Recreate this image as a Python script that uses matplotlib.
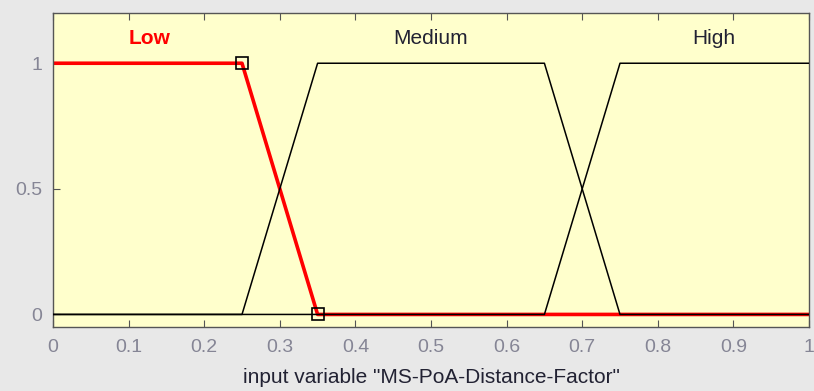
import matplotlib
matplotlib.use("Agg")
import matplotlib.pyplot as plt

plt.rcParams['font.family'] = ['Liberation Sans', 'DejaVu Sans']

# Membership functions (trapezoids) of the input variable
mf_names = ["Low", "Medium", "High"]
low_x = [0.0, 0.0, 0.25, 0.35, 1.0]
low_y = [1.0, 1.0, 1.0, 0.0, 0.0]
medium_x = [0.0, 0.25, 0.35, 0.65, 0.75, 1.0]
medium_y = [0.0, 0.0, 1.0, 1.0, 0.0, 0.0]
high_x = [0.0, 0.65, 0.75, 1.0, 1.0]
high_y = [0.0, 0.0, 1.0, 1.0, 1.0]
label_x = [0.128, 0.50, 0.874]
label_y = 1.1
selected_x = [0.25, 0.35]
selected_y = [1.0, 0.0]

x_ticks = [0, 0.1, 0.2, 0.3, 0.4, 0.5, 0.6, 0.7, 0.8, 0.9, 1]
x_ticklabels = ["0", "0.1", "0.2", "0.3", "0.4", "0.5", "0.6", "0.7", "0.8", "0.9", "1"]
y_ticks = [0, 0.5, 1]
y_ticklabels = ["0", "0.5", "1"]

fig = plt.figure(figsize=(8.14, 3.91), dpi=100, facecolor="#E8E8E8")
ax = fig.add_axes([53 / 814, 64 / 391, 756 / 814, 314 / 391])
ax.set_facecolor("#FFFFCC")

ax.plot(low_x, low_y, color="#FF0000", lw=2.6, zorder=2)
ax.plot(medium_x, medium_y, color="black", lw=1.1, zorder=3)
ax.plot(high_x, high_y, color="black", lw=1.1, zorder=3)
ax.plot(selected_x, selected_y, linestyle="none", marker="s", markersize=8,
        markerfacecolor="none", markeredgecolor="black", markeredgewidth=1.2, zorder=4)

label_colors = ["#FF0000", "#222233", "#222233"]
label_weights = ["bold", "normal", "normal"]
for name, lx, c, w in zip(mf_names, label_x, label_colors, label_weights):
    ax.text(lx, label_y, name, color=c, fontweight=w, fontsize=15,
            ha="center", va="center")

ax.set_xlim(0, 1)
ax.set_ylim(-0.05, 1.2)
ax.set_xticks(x_ticks)
ax.set_xticklabels(x_ticklabels)
ax.set_yticks(y_ticks)
ax.set_yticklabels(y_ticklabels)
ax.tick_params(direction="in", top=True, right=False, length=5, color="#555555",
               labelcolor="#858595", labelsize=14)
ax.tick_params(axis="x", pad=9)
ax.tick_params(axis="y", pad=8)
for s in ax.spines.values():
    s.set_color("#555555")
    s.set_linewidth(1.0)
ax.set_xlabel('input variable "MS-PoA-Distance-Factor"', fontsize=15,
              color="#222233", labelpad=8)

fig.savefig("out.png", dpi=100, facecolor=fig.get_facecolor())
